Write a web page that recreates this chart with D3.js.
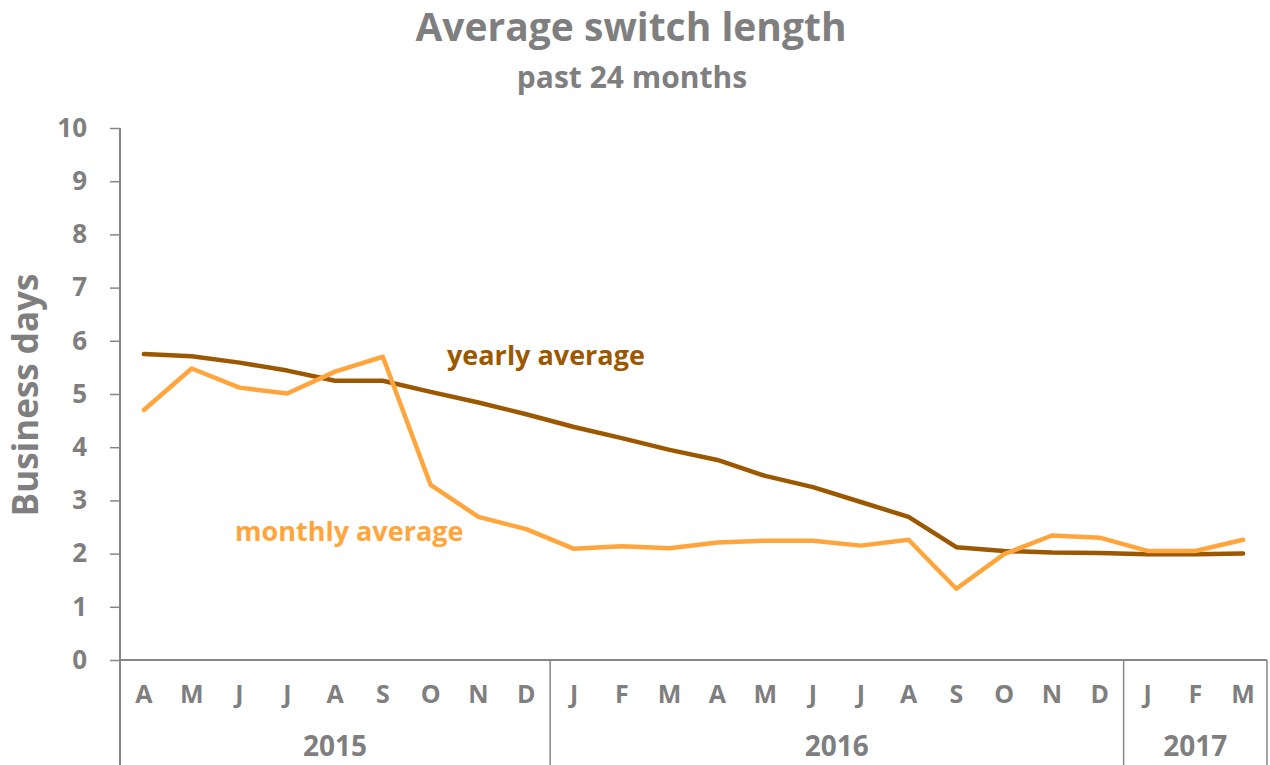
<!DOCTYPE html>
<html>
<head>
<meta charset="utf-8">
<script src="https://cdn.jsdelivr.net/npm/d3@7"></script>
<style>
  body { margin: 0; background: #fff; }
  svg { display: block; font-family: "Open Sans", sans-serif; font-weight: bold; }
</style>
</head>
<body>
<div id="chart"></div>
<script>
// months shown on the axis (Apr 2015 .. Mar 2017)
var months = ["A","M","J","J","A","S","O","N","D","J","F","M","A","M","J","J","A","S","O","N","D","J","F","M"];
var years = ["2015", "2016", "2017"];
var yearSpans = [9, 12, 3];
var yTicks = [0, 1, 2, 3, 4, 5, 6, 7, 8, 9, 10];

var monthlyAvg = [4.70, 5.48, 5.12, 5.01, 5.42, 5.70, 3.29, 2.69, 2.46,
                  2.09, 2.14, 2.10, 2.21, 2.24, 2.24, 2.15, 2.26, 1.34, 1.99, 2.34, 2.30,
                  2.05, 2.05, 2.26];
var yearlyAvg = [5.75, 5.71, 5.59, 5.44, 5.25, 5.25, 5.04, 4.84, 4.62,
                 4.38, 4.17, 3.95, 3.76, 3.46, 3.25, 2.97, 2.69, 2.12, 2.05, 2.02, 2.01,
                 1.99, 1.99, 2.00];

var W = 1270, H = 765;
var plotLeft = 120, plotRight = 1267, plotTop = 128, plotBottom = 660;
var grey = "#7f7f7f", axisGrey = "#868686";
var cYearly = "#9c5800", cMonthly = "#ffa53c";

var svg = d3.select("#chart").append("svg")
    .attr("width", W)
    .attr("height", H);

var x = d3.scaleBand()
    .domain(d3.range(months.length))
    .range([plotLeft, plotRight])
    .padding(0);
var y = d3.scaleLinear()
    .domain([0, 10])
    .range([plotBottom, plotTop]);

// titles
svg.append("text")
    .attr("x", 631).attr("y", 41)
    .attr("text-anchor", "middle")
    .attr("fill", grey)
    .style("font-size", "39px")
    .text("Average switch length");
svg.append("text")
    .attr("x", 632).attr("y", 88)
    .attr("text-anchor", "middle")
    .attr("fill", grey)
    .style("font-size", "30px")
    .text("past 24 months");

// y axis
var yAxis = svg.append("g")
    .attr("transform", "translate(" + plotLeft + ",0)")
    .call(d3.axisLeft(y).tickValues(yTicks).tickSize(10).tickPadding(23).tickSizeOuter(0));
yAxis.select(".domain").remove();
yAxis.selectAll(".tick line").attr("stroke", axisGrey).attr("stroke-width", 1.5);
yAxis.selectAll(".tick text")
    .attr("fill", grey)
    .style("font-size", "26px")
    .style("font-family", "'Open Sans', sans-serif")
    .style("font-weight", "bold");

svg.append("line")
    .attr("x1", plotLeft).attr("x2", plotLeft)
    .attr("y1", plotTop).attr("y2", H)
    .attr("stroke", axisGrey).attr("stroke-width", 2);

svg.append("text")
    .attr("transform", "translate(38," + 395 + ") rotate(-90)")
    .attr("text-anchor", "middle")
    .attr("fill", grey)
    .style("font-size", "35px")
    .text("Business days");

// x axis: baseline + month labels
svg.append("line")
    .attr("x1", plotLeft).attr("x2", plotRight)
    .attr("y1", plotBottom).attr("y2", plotBottom)
    .attr("stroke", axisGrey).attr("stroke-width", 2);

svg.append("g").selectAll("text")
    .data(months)
    .enter().append("text")
    .attr("x", function(d, i) { return x(i) + x.bandwidth() / 2; })
    .attr("y", 703)
    .attr("text-anchor", "middle")
    .attr("fill", grey)
    .style("font-size", "25px")
    .text(function(d) { return d; });

// year groups
var starts = [0];
yearSpans.forEach(function(s, i) { starts.push(starts[i] + s); });

svg.append("g").selectAll("line")
    .data(starts.slice(1))
    .enter().append("line")
    .attr("x1", function(d) { return d >= months.length ? plotRight : x(d); })
    .attr("x2", function(d) { return d >= months.length ? plotRight : x(d); })
    .attr("y1", plotBottom).attr("y2", H)
    .attr("stroke", axisGrey).attr("stroke-width", 1.5);

svg.append("g").selectAll("text")
    .data(years)
    .enter().append("text")
    .attr("x", function(d, i) {
        var a = x(starts[i]);
        var b = starts[i + 1] >= months.length ? plotRight : x(starts[i + 1]);
        return (a + b) / 2;
    })
    .attr("y", 756)
    .attr("text-anchor", "middle")
    .attr("fill", grey)
    .style("font-size", "28px")
    .text(function(d) { return d; });

// lines
var line = d3.line()
    .x(function(d, i) { return x(i) + x.bandwidth() / 2; })
    .y(function(d) { return y(d); });

svg.append("path")
    .datum(yearlyAvg)
    .attr("fill", "none")
    .attr("stroke", cYearly)
    .attr("stroke-width", 4.5)
    .attr("stroke-linecap", "round")
    .attr("stroke-linejoin", "round")
    .attr("d", line);

svg.append("path")
    .datum(monthlyAvg)
    .attr("fill", "none")
    .attr("stroke", cMonthly)
    .attr("stroke-width", 4.5)
    .attr("stroke-linecap", "round")
    .attr("stroke-linejoin", "round")
    .attr("d", line);

// line labels
svg.append("text")
    .attr("x", 447).attr("y", 365)
    .attr("fill", cYearly)
    .style("font-size", "27px")
    .text("yearly average");
svg.append("text")
    .attr("x", 235).attr("y", 541)
    .attr("fill", cMonthly)
    .style("font-size", "27px")
    .text("monthly average");
</script>
</body>
</html>
